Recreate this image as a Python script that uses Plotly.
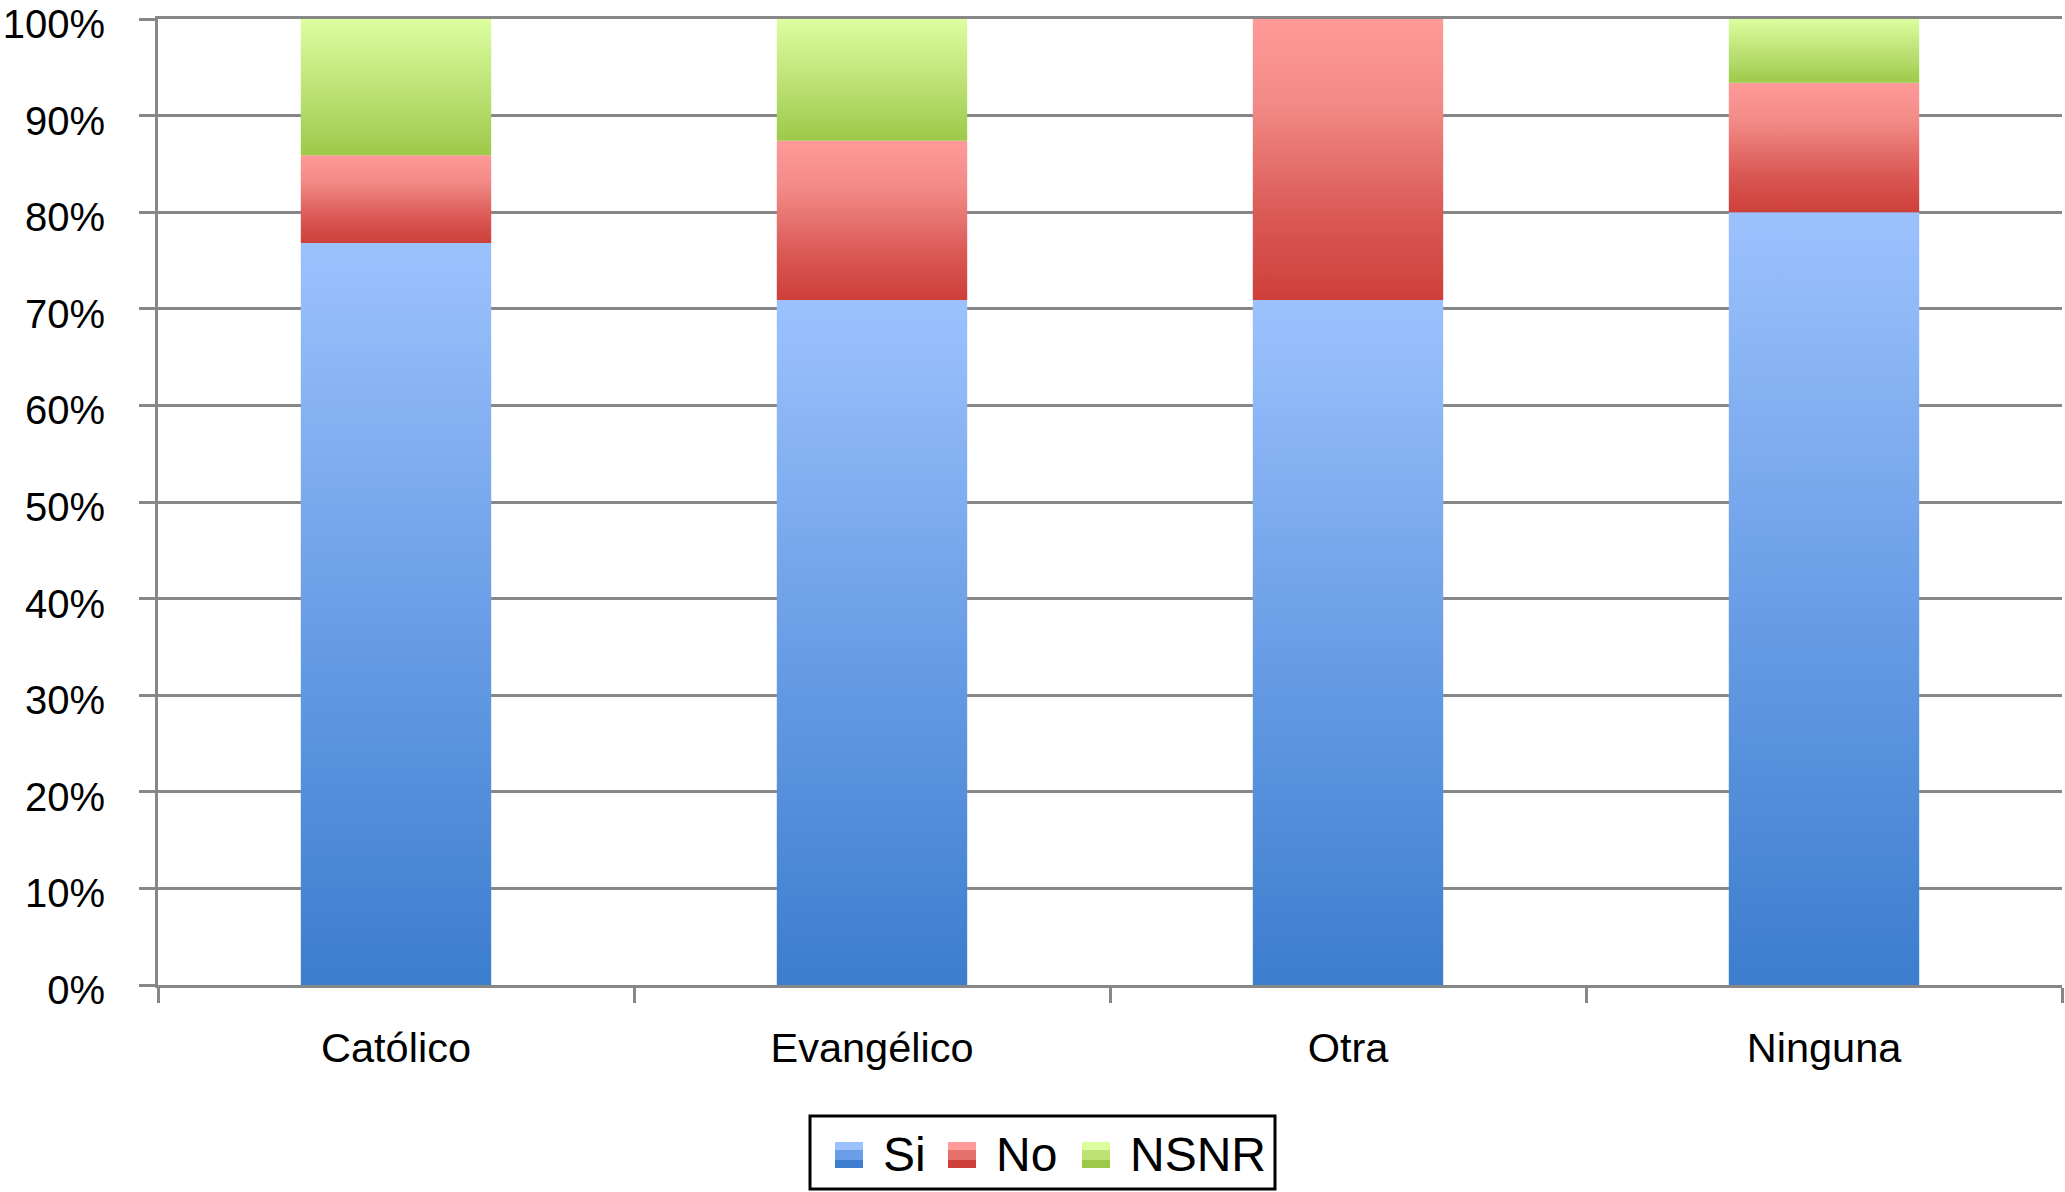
import plotly.graph_objects as go

# ---------------- data ----------------
categories = ["Católico", "Evangélico", "Otra", "Ninguna"]
series_names = ["Si", "No", "NSNR"]
si = [76.8, 70.9, 70.9, 80.0]
no = [9.1, 16.5, 29.1, 13.4]
nsnr = [14.1, 12.6, 0.0, 6.6]
y_tick_values = [0, 10, 20, 30, 40, 50, 60, 70, 80, 90, 100]
y_tick_labels = ["0%", "10%", "20%", "30%", "40%", "50%", "60%", "70%", "80%", "90%", "100%"]

# ---------------- style ----------------
W, H = 2065, 1192
ML, MR, MT, MB = 158, 3, 19, 207
GRAY = "#878787"
FONT = "Liberation Sans, Arial, Helvetica, sans-serif"
BAR_HALF = 0.20

scales = {
    "Si": [[0, "#3C7DCE"], [0.5, "#6A9EE6"], [1, "#9CC2FD"]],
    "No": [[0, "#CE3F3A"], [0.3, "#DA5955"], [0.7, "#F28A87"], [1, "#FF9A98"]],
    "NSNR": [[0, "#9CC949"], [0.5, "#BDE377"], [1, "#DCFE9F"]],
}
solid = {"Si": "#6A9EE6", "No": "#E6706C", "NSNR": "#BDE377"}

fig = go.Figure()

series = {"Si": si, "No": no, "NSNR": nsnr}
for i, cat in enumerate(categories):
    base = 0.0
    for name in series_names:
        v = series[name][i]
        if v <= 0:
            continue
        x0, x1 = i - BAR_HALF, i + BAR_HALF
        fig.add_trace(go.Scatter(
            x=[x0, x1, x1, x0, x0],
            y=[base, base, base + v, base + v, base],
            mode="lines",
            fill="toself",
            fillgradient=dict(type="vertical", colorscale=scales[name]),
            line=dict(width=0, color="rgba(0,0,0,0)"),
            showlegend=False,
            hoverinfo="text",
            text=f"{cat} – {name}: {v:.1f}%",
        ))
        base += v

# ---------------- custom legend (pixel helpers) ----------------
pw = W - ML - MR
ph = H - MT - MB

def px(xp):
    return (xp - ML) / pw

def py(yp):
    return (H - MB - yp) / ph

shapes = []
annotations = []
shapes.append(dict(type="rect", xref="paper", yref="paper",
                   x0=px(810), x1=px(1275), y0=py(1189), y1=py(1116),
                   line=dict(color="black", width=3), fillcolor="white", layer="above"))
legend_items = [("Si", 835, 881), ("No", 948, 994), ("NSNR", 1082, 1128)]
for name, sx, tx in legend_items:
    sc = scales[name]
    shapes.append(dict(type="rect", xref="paper", yref="paper",
                       x0=px(sx), x1=px(sx + 28), y0=py(1168), y1=py(1142),
                       line=dict(width=0), fillcolor=solid[name], layer="above"))
    shapes.append(dict(type="rect", xref="paper", yref="paper",
                       x0=px(sx), x1=px(sx + 28), y0=py(1150), y1=py(1142),
                       line=dict(width=0), fillcolor=sc[-1][1], layer="above"))
    shapes.append(dict(type="rect", xref="paper", yref="paper",
                       x0=px(sx), x1=px(sx + 28), y0=py(1168), y1=py(1160),
                       line=dict(width=0), fillcolor=sc[0][1], layer="above"))
    annotations.append(dict(xref="paper", yref="paper", x=px(tx), y=py(1154),
                            text=name, showarrow=False, xanchor="left", yanchor="middle",
                            font=dict(family=FONT, size=48, color="black")))

fig.update_layout(
    template="none",
    width=W, height=H,
    margin=dict(l=ML, r=MR, t=MT, b=MB, pad=0, autoexpand=False),
    paper_bgcolor="white", plot_bgcolor="white",
    showlegend=False,
    shapes=shapes,
    annotations=annotations,
    font=dict(family=FONT, color="black"),
)

fig.update_xaxes(
    type="linear",
    automargin=False,
    range=[-0.5, len(categories) - 0.5],
    tickmode="array",
    tickvals=list(range(len(categories))),
    ticktext=categories,
    ticks="",
    showgrid=False,
    zeroline=False,
    showline=True, linecolor=GRAY, linewidth=3, mirror=True,
    tickfont=dict(family=FONT, size=41.5, color="black"),
    ticklabelstandoff=24,
    minor=dict(tickmode="array",
               tickvals=[k - 0.5 for k in range(len(categories) + 1)],
               ticks="outside", ticklen=15, tickwidth=3, tickcolor=GRAY,
               showgrid=False),
    fixedrange=True,
)

fig.update_yaxes(
    automargin=False,
    range=[0, 100],
    tickmode="array",
    tickvals=y_tick_values,
    ticktext=y_tick_labels,
    ticks="outside", ticklen=16, tickwidth=3, tickcolor=GRAY,
    showgrid=True, gridcolor=GRAY, gridwidth=3,
    zeroline=False,
    showline=True, linecolor=GRAY, linewidth=3,
    tickfont=dict(family=FONT, size=40, color="black"),
    ticklabelstandoff=26,
    ticklabelshift=5,
    ticklabeloverflow="allow",
    fixedrange=True,
)

fig.write_html("out.html", config={"displayModeBar": False},
               post_script="document.body.style.margin='0';")
